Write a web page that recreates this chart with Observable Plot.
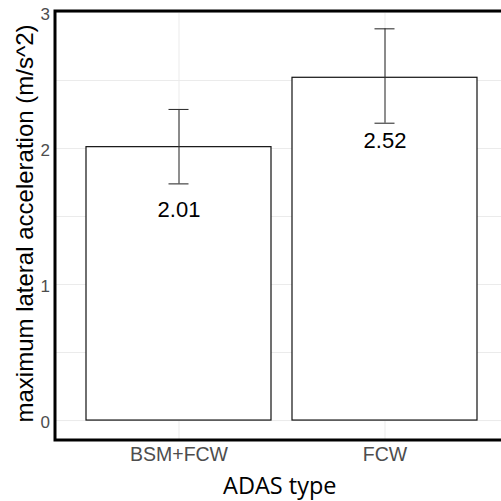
<!DOCTYPE html>
<html>
<head>
<meta charset="utf-8">
<script src="https://cdn.jsdelivr.net/npm/d3@7"></script>
<script src="https://cdn.jsdelivr.net/npm/@observablehq/plot@0.6"></script>
<style>
  html, body { margin: 0; padding: 0; background: #fff; overflow: hidden; }
  #chart { width: 501px; height: 501px; overflow: hidden; }
  #chart svg { max-width: none !important; }
</style>
</head>
<body>
<div id="chart"></div>
<script>
const types = ["BSM+FCW", "FCW"];
const means = [2.01, 2.52];
const lower = [1.74, 2.186];
const upper = [2.287, 2.88];
const yTicks = [0, 1, 2, 3];
const yGrid = [0, 0.5, 1, 1.5, 2, 2.5, 3];
const xTitle = "ADAS type";
const yTitle = "maximum lateral acceleration (m/s^2)";

const data = types.map((t, i) => ({type: t, mean: means[i], lo: lower[i], hi: upper[i]}));

const chart = Plot.plot({
  width: 510,
  height: 501,
  marginLeft: 54.5,
  marginRight: 2,
  marginTop: 10.5,
  marginBottom: 61.5,
  style: {fontFamily: "'Liberation Sans', Arial, sans-serif", background: "#fff", overflow: "hidden", maxWidth: "none"},
  x: {domain: types, paddingInner: 0.1, paddingOuter: 0.15, axis: null},
  y: {domain: [-0.143, 3.011], axis: null},
  marks: [
    Plot.gridY(yGrid, {stroke: "#ebebeb", strokeOpacity: 1, strokeWidth: 1}),
    Plot.gridX(types, {stroke: "#ebebeb", strokeOpacity: 1, strokeWidth: 1}),
    Plot.barY(data, {x: "type", y: "mean", fill: "white", stroke: "#111", strokeWidth: 1.2}),
    Plot.ruleX(data, {x: "type", y1: "lo", y2: "hi", stroke: "#333", strokeWidth: 1.1}),
    Plot.tickY(data, {x: "type", y: "lo", stroke: "#333", strokeWidth: 1.1, insetLeft: 82.5, insetRight: 82.5}),
    Plot.tickY(data, {x: "type", y: "hi", stroke: "#333", strokeWidth: 1.1, insetLeft: 82.5, insetRight: 82.5}),
    Plot.text(data, {x: "type", y: "mean", text: d => d.mean.toFixed(2), dy: 63, fontSize: 22, fill: "#000"}),
    Plot.axisY(yTicks, {tickSize: 0, tickPadding: 5, fontSize: 17, fill: "#4d4d4d", dy: 2, tickFormat: d => String(d), label: null}),
    Plot.axisX(types, {tickSize: 0, tickPadding: 7, fontSize: 19.5, fill: "#4d4d4d", label: null}),
    Plot.frame({stroke: "#000", strokeWidth: 3}),
    Plot.text([xTitle], {frameAnchor: "bottom", textAnchor: "middle", lineAnchor: "middle", dy: 46, dx: -2, fontSize: 23.5, fontFamily: "'Open Sans', sans-serif", fill: "#000"}),
    Plot.text([yTitle], {frameAnchor: "left", textAnchor: "middle", lineAnchor: "middle", rotate: -90, dx: -29.7, dy: -2, fontSize: 24, fill: "#000"})
  ]
});
document.getElementById("chart").appendChild(chart);
</script>
</body>
</html>
